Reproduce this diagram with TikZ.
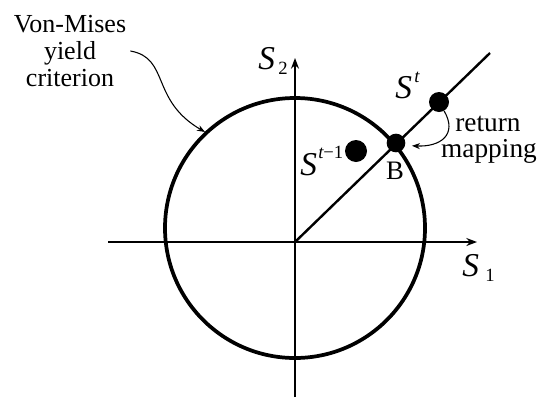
\documentclass[tikz,border=0pt]{standalone}
\usepackage{fontspec}
\setmainfont{Liberation Serif}
\usetikzlibrary{arrows.meta}

\begin{document}
\begin{tikzpicture}[
    x=0.75pt, y=-0.75pt,
    ax/.style={line width=1.1pt, -{Stealth[length=8pt, width=6pt]}},
    dot/.style={circle, fill=black, inner sep=0pt, minimum size=#1},
    sym/.style={font=\fontsize{25}{25}\selectfont, inner sep=0pt, anchor=base west},
    idx/.style={font=\fontsize{14}{14}\selectfont, inner sep=0pt, anchor=base west},
    txt/.style={font=\fontsize{19}{18}\selectfont, align=center, inner sep=3pt},
    word/.style={font=\fontsize{20.5}{20.5}\selectfont, inner sep=0pt, anchor=base},
    lead/.style={line width=0.8pt, -{Stealth[length=6pt, width=4.5pt]}},
]
\useasboundingbox (0,0) rectangle (539,397);

% --- axes ---
\coordinate (O) at (295,242);
\coordinate (s1w) at (108,242);
\coordinate (s1e) at (477,242);
\coordinate (s2s) at (295,397);
\coordinate (s2n) at (295,58);
\draw[ax] (s1w) -- (s1e);
\draw[ax] (s2s) -- (s2n);
\node[sym] (s1) at (462,276) {\itshape S};
\node[idx] (s1i) at (485,281) {1};
\node[sym] (s2) at (258,69) {\itshape S};
\node[idx] (s2i) at (278,74) {2};

% --- yield surface and radial line ---
\draw[line width=2.8pt] (295,228) circle [radius=130];
\coordinate (rend) at (490,53);
\draw[line width=1.8pt] (O) -- (rend);

% stress points
\node[dot=15pt] (St) at (439,102) {};
\node[dot=14pt] (B) at (396,143) {};
\node[dot=16.5pt] (Stm) at (356,151) {};
\node[sym] (lSt) at (395,98) {\itshape S};
\node[idx] (lSti) at (414,82) {\itshape t};
\node[sym] (lStm) at (300,175) {\itshape S};
\node[idx] (lStmi) at (318,158) {\itshape t\upshape −1};
\node[txt, font=\fontsize{20}{20}\selectfont] (lB) at (395,171) {B};

% --- annotations ---
\node[txt, font=\fontsize{19.5}{20}\selectfont] (vm) at (70,51) {Von-Mises\\yield\\criterion};
\coordinate (vmtip) at (205,132);
\draw[lead] (vm.east) .. controls (170,58) and (150,100) .. (vmtip);

\node[word] (rm1) at (488,131) {return};
\node[word] (rm2) at (489,157) {mapping};
\draw[lead, shorten >=5pt] (St.-60) .. controls (458,135) and (440,147) .. (B.-15);

\end{tikzpicture}
\end{document}
